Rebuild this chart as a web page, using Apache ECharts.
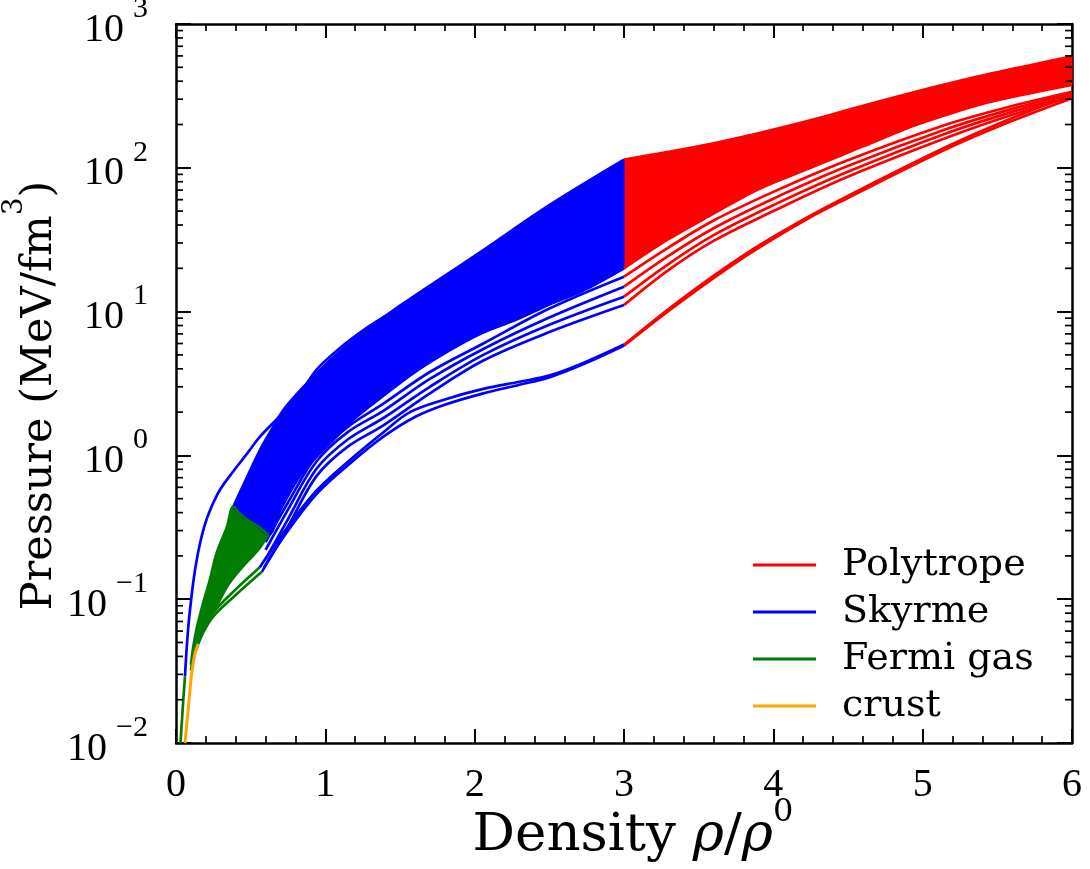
<!DOCTYPE html>
<html>
<head>
<meta charset="utf-8">
<script src="https://cdn.jsdelivr.net/npm/echarts@6/dist/echarts.min.js"></script>
<style>
html,body{margin:0;padding:0;background:#fff;}
#chart{width:1090px;height:869px;}
</style>
</head>
<body>
<div id="chart"></div>
<script>
// ---- axes ----
const densityRange = [0, 6];
const pressureRange = [0.01, 1000];
const pressureDecades = [0.01, 0.1, 1, 10, 100, 1000];
const minorMultipliers = [2, 3, 4, 5, 6, 7, 8, 9];

// ---- crust (density rho/rho0, pressure MeV/fm^3) ----
const crustCurve = [[0.06,0.0100],[0.083,0.0178],[0.105,0.0305],[0.127,0.042],[0.149,0.049]];

// ---- Fermi gas: outline of the dense bundle + separate curves ----
const fermiUpper = [[0.10,0.035],[0.116,0.047],[0.139,0.063],[0.183,0.095],[0.228,0.138],[0.272,0.209],[0.34,0.316],[0.384,0.44],[0.42,0.40],[0.47,0.36],[0.55,0.32],[0.618,0.28]];
const fermiLower = [[0.618,0.28],[0.55,0.22],[0.45,0.17],[0.35,0.126],[0.28,0.093],[0.23,0.076],[0.18,0.060],[0.14,0.047],[0.116,0.038],[0.10,0.032]];
const fermiLow1 = [[0.13,0.043],[0.18,0.058],[0.25,0.076],[0.4,0.107],[0.575,0.155]];
const fermiLow2 = [[0.13,0.044],[0.18,0.060],[0.25,0.081],[0.4,0.117],[0.56,0.166]];
const fermiEarly = [[0.03,0.0100],[0.049,0.020],[0.06,0.029]];

// ---- Skyrme: outline of the dense bundle + separate curves ----
const skyrmeUpper = [[0.384,0.44],[0.45,0.62],[0.5625,1.09],[0.64,1.51],[0.719,2.07],[0.83,2.82],[0.942,3.72],[1.1,5.31],[1.277,7.45],[1.5,11.0],[1.723,15.7],[2.058,26.8],[2.5,55],[3.0,114]];
const skyrmeLower = [[3.0,20],[2.727,14.0],[2.5,11.2],[2.28,8.8],[2.05,7.1],[1.835,5.4],[1.6,3.8],[1.389,2.6],[1.2,1.82],[1.076,1.35],[0.95,1.0],[0.83,0.72],[0.7,0.42],[0.618,0.28],[0.55,0.32],[0.47,0.36],[0.42,0.40],[0.384,0.44]];
const skyrmeStiffLow = [[0.06,0.029],[0.08,0.060],[0.105,0.107],[0.13,0.166],[0.161,0.245],[0.2,0.347],[0.25,0.468],[0.3,0.589],[0.384,0.776],[0.473,1.02],[0.5625,1.35],[0.674,1.78],[0.763,2.19],[0.85,2.88],[0.942,3.95],[1.1,5.6],[1.277,7.7],[1.45,10.0]];
const skyrmeSoft1 = [[0.6,0.25],[0.75,0.47],[0.942,1.0],[1.15,1.58],[1.389,2.29],[1.7,3.8],[2.058,6.0],[2.5,10.5],[3.0,17.5]];
const skyrmeSoft2 = [[0.6,0.22],[0.75,0.42],[0.942,0.91],[1.15,1.45],[1.389,2.04],[1.7,3.4],[2.058,5.5],[2.5,9.1],[3.0,14.9]];
const skyrmeSoft3 = [[0.6,0.19],[0.75,0.36],[0.942,0.81],[1.15,1.29],[1.389,1.82],[1.7,3.0],[2.058,5.0],[2.5,8.1],[3.0,12.7]];
const skyrmeSoft4 = [[0.59,0.166],[0.75,0.32],[0.942,0.72],[1.15,1.15],[1.389,1.62],[1.7,2.7],[2.058,4.57],[2.5,7.2],[3.0,11.1]];
const skyrmeSoft5 = [[0.56,0.166],[0.719,0.29],[0.942,0.57],[1.165,0.93],[1.389,1.45],[1.567,2.0],[1.8,2.45],[2.058,2.9],[2.3,3.25],[2.504,3.6],[2.75,4.5],[3.0,5.9]];
const skyrmeSoft6 = [[0.575,0.155],[0.719,0.27],[0.942,0.54],[1.165,0.88],[1.389,1.35],[1.6,1.85],[1.8,2.25],[2.058,2.7],[2.3,3.1],[2.504,3.5],[2.75,4.4],[3.0,5.8]];

// ---- Polytrope: outline of the dense bundle + separate curves ----
const polyUpper = [[3.0,114],[3.3,129],[3.6,148],[3.9,174],[4.13,199],[4.38,233],[4.65,279],[4.94,335],[5.2,391],[5.47,455],[5.75,525],[6.0,596]];
const polyLower = [[6.0,377],[5.7,327],[5.38,275],[5.15,232],[4.94,196],[4.6,141],[4.27,102],[3.9,71],[3.6,48],[3.3,32],[3.0,20]];
const poly1 = [[3.0,17.5],[3.3,28],[3.6,43],[4.0,68],[4.49,112],[5.16,200],[5.6,269],[6.0,338]];
const poly2 = [[3.0,14.9],[3.3,24.5],[3.6,38],[4.0,61],[4.49,102],[5.16,186],[5.6,257],[6.0,330]];
const poly3 = [[3.0,12.7],[3.3,21.5],[3.6,34],[4.0,55],[4.49,93],[5.16,174],[5.6,245],[6.0,320]];
const poly4 = [[3.0,11.1],[3.3,19.5],[3.6,31],[4.0,50],[4.49,86],[5.16,162],[5.6,234],[6.0,312]];
const poly5 = [[3.0,5.87],[3.375,12.0],[3.82,25.4],[4.2,43.6],[4.49,63],[5.16,140],[5.6,222],[6.0,321]];
const poly6 = [[3.0,5.8],[3.375,11.6],[3.82,24.5],[4.2,42.5],[4.49,61],[5.16,135],[5.6,212],[6.0,305]];

const RED = '#ff0000', BLUE = '#0000ff', GREEN = '#007d00', ORANGE = '#ffa500';
const SERIF = "'DejaVu Serif', serif";
const NUM_FONT = "'Liberation Serif', serif";
const LINE_W = 2.7;

function minusSign(n) { return n < 0 ? '\u2212' + (-n) : String(n); }

// filled region between the upper and lower outline of a bundle of curves
function bandFill(name, color, upper, lower) {
  const pts = upper.concat(lower);
  return {
    type: 'custom', name: name, silent: true, itemStyle: { color: color },
    data: pts,
    renderItem: function (params, api) {
      if (params.dataIndex !== 0) return null;
      return {
        type: 'polygon',
        shape: { points: pts.map(function (p) { return api.coord(p); }) },
        style: { fill: color, stroke: color, lineWidth: 1 }
      };
    }
  };
}

function curve(name, color, data, width) {
  return {
    type: 'line', name: name, data: data, silent: true,
    showSymbol: false, symbol: 'none', smooth: 0.35,
    lineStyle: { color: color, width: width || LINE_W },
    itemStyle: { color: color }
  };
}

// a bundle = fill + its two smoothed outline curves
function bundle(name, color, upper, lower) {
  return [bandFill(name, color, upper, lower), curve(name, color, upper), curve(name, color, lower)];
}

// minor log ticks on both vertical sides
const minorPressureTicks = [];
pressureDecades.slice(0, -1).forEach(function (d) {
  minorMultipliers.forEach(function (m) { minorPressureTicks.push([densityRange[0], d * m]); });
});

const minorTickSeries = {
  type: 'custom', silent: true, data: minorPressureTicks, z: 10,
  renderItem: function (params, api) {
    const y = api.value(1);
    const l = api.coord([densityRange[0], y]);
    const r = api.coord([densityRange[1], y]);
    const st = { stroke: '#000', lineWidth: 1.7 };
    return {
      type: 'group',
      children: [
        { type: 'line', shape: { x1: l[0], y1: l[1], x2: l[0] + 7, y2: l[1] }, style: st },
        { type: 'line', shape: { x1: r[0], y1: r[1], x2: r[0] - 7, y2: r[1] }, style: st }
      ]
    };
  }
};

const axisLineStyle = { color: '#000', width: 2.5 };

function xAxisDef(pos, labels) {
  return {
    type: 'value', position: pos, min: densityRange[0], max: densityRange[1], interval: 1,
    splitLine: { show: false },
    axisLine: { show: true, onZero: false, lineStyle: axisLineStyle },
    axisTick: { show: true, inside: true, length: 14, lineStyle: { color: '#000', width: 2 } },
    minorTick: { show: true, splitNumber: 5, length: 7, lineStyle: { color: '#000', width: 1.7 } },
    axisLabel: labels ? { show: true, fontFamily: NUM_FONT, fontSize: 40, color: '#000', margin: 22 } : { show: false },
    name: labels ? '{t|Density }{i|\u03c1}{t|/}{i|\u03c1}{s|0}' : '',
    nameLocation: 'middle', nameGap: 54, nameMoveOverlap: false,
    nameTextStyle: {
      padding: [0, 0, 0, 18],
      rich: {
        t: { fontFamily: SERIF, fontSize: 53, lineHeight: 66, verticalAlign: 'bottom', color: '#000' },
        i: { fontFamily: SERIF, fontStyle: 'italic', fontSize: 53, lineHeight: 66, verticalAlign: 'bottom', color: '#000' },
        s: { fontFamily: SERIF, fontSize: 32, lineHeight: 32, verticalAlign: 'top', color: '#000' }
      }
    }
  };
}

function yAxisDef(pos, labels) {
  return {
    type: 'log', logBase: 10, position: pos, min: pressureRange[0], max: pressureRange[1],
    splitLine: { show: false },
    axisLine: { show: true, onZero: false, lineStyle: axisLineStyle },
    axisTick: { show: true, inside: true, length: 15, lineStyle: { color: '#000', width: 2 } },
    axisLabel: labels ? {
      show: true, margin: 28, padding: [0, 0, 4, 0],
      formatter: function (v) { return '{b|10}{e|' + minusSign(Math.round(Math.log10(v))) + '}'; },
      rich: {
        b: { fontFamily: NUM_FONT, fontSize: 40, lineHeight: 56, verticalAlign: 'bottom', color: '#000' },
        e: { fontFamily: NUM_FONT, fontSize: 30, lineHeight: 36, verticalAlign: 'top', color: '#000', padding: [0, 0, 0, 9] }
      }
    } : { show: false },
    name: labels ? '{t|Pressure (MeV/fm}{s|3}{p|)}' : '',
    nameLocation: 'middle', nameGap: 115, nameRotate: 90, nameMoveOverlap: false,
    nameTextStyle: {
      rich: {
        t: { fontFamily: SERIF, fontSize: 43, lineHeight: 60, verticalAlign: 'bottom', color: '#000' },
        p: { fontFamily: SERIF, fontSize: 43, lineHeight: 60, verticalAlign: 'bottom', color: '#000', padding: [0, 24, 0, 0] },
        s: { fontFamily: SERIF, fontSize: 28, lineHeight: 28, verticalAlign: 'top', color: '#000' }
      }
    }
  };
}

const series = [].concat(
  bundle('Polytrope', RED, polyUpper, polyLower),
  [curve('Polytrope', RED, poly1), curve('Polytrope', RED, poly2), curve('Polytrope', RED, poly3),
   curve('Polytrope', RED, poly4), curve('Polytrope', RED, poly5), curve('Polytrope', RED, poly6)],
  bundle('Skyrme', BLUE, skyrmeUpper, skyrmeLower),
  [curve('Skyrme', BLUE, skyrmeStiffLow), curve('Skyrme', BLUE, skyrmeSoft1), curve('Skyrme', BLUE, skyrmeSoft2),
   curve('Skyrme', BLUE, skyrmeSoft3), curve('Skyrme', BLUE, skyrmeSoft4), curve('Skyrme', BLUE, skyrmeSoft5),
   curve('Skyrme', BLUE, skyrmeSoft6)],
  bundle('Fermi gas', GREEN, fermiUpper, fermiLower),
  [curve('Fermi gas', GREEN, fermiLow1), curve('Fermi gas', GREEN, fermiLow2), curve('Fermi gas', GREEN, fermiEarly)],
  [curve('crust', ORANGE, crustCurve, 3), minorTickSeries]
);

const chart = echarts.init(document.getElementById('chart'), null, { renderer: 'canvas' });
chart.setOption({
  animation: false,
  backgroundColor: '#fff',
  grid: { left: 176, right: 18, top: 24, bottom: 126, outerBoundsMode: 'none' },
  xAxis: [xAxisDef('bottom', true), xAxisDef('top', false)],
  yAxis: [yAxisDef('left', true), yAxisDef('right', false)],
  legend: {
    orient: 'vertical', left: 753, top: 546, padding: 0,
    data: ['Polytrope', 'Skyrme', 'Fermi gas', 'crust'],
    icon: 'rect', itemWidth: 63, itemHeight: 3, itemGap: 9,
    selectedMode: false,
    textStyle: { fontFamily: SERIF, fontSize: 38, lineHeight: 36, color: '#000', padding: [0, 0, 0, 21] }
  },
  series: series
});
</script>
</body>
</html>
